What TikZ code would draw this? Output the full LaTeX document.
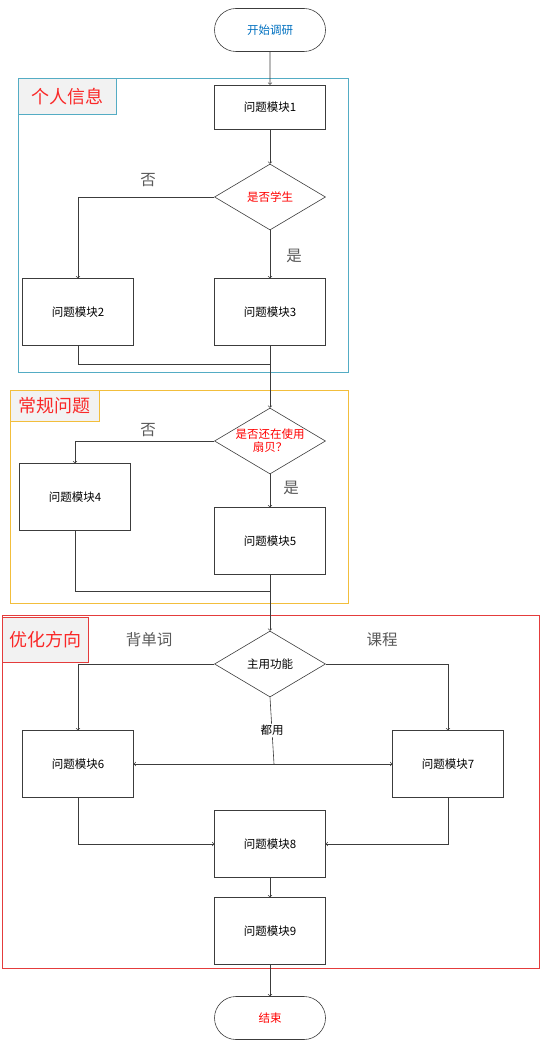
\documentclass[tikz,border=0pt]{standalone}
\usepackage{fontspec}
\setmainfont{Noto Sans CJK SC}
\usepackage{tikz}
\usetikzlibrary{positioning}
\usetikzlibrary{shapes.geometric}
\usetikzlibrary{shapes.misc}
\definecolor{frame-cyan}{RGB}{84,172,196}
\definecolor{frame-orange}{RGB}{242,190,60}
\definecolor{frame-red}{RGB}{228,60,60}
\definecolor{label-red}{RGB}{250,40,40}
\definecolor{start-blue}{RGB}{0,112,192}
\definecolor{line-gray}{RGB}{60,60,60}
\definecolor{tag-gray}{RGB}{242,242,242}

\begin{document}
\begin{tikzpicture}[%
            x=1pt,y=-1pt,
            >=to,
            every node/.style={font=\fontsize{11.5}{13}\selectfont},
            block/.style={draw=line-gray,semithick,fill=white,minimum width=111pt,inner sep=0pt},
            shortblock/.style={block,minimum height=44pt},
            tallblock/.style={block,minimum height=67pt},
            terminal/.style={draw=line-gray,semithick,rounded rectangle,minimum width=111pt,minimum height=43pt,inner sep=0pt},
            decision/.style={draw=line-gray,semithick,diamond,aspect=1.68,minimum width=111pt,minimum height=66pt,inner sep=0pt,text=red,align=center},
            branch/.style={font=\fontsize{15.5}{17}\selectfont,text=black!65},
            grouptag/.style={draw,thick,fill=tag-gray,anchor=north west,inner sep=3pt,text=label-red,font=\fontsize{18}{20}\selectfont},
            flow/.style={->,line-gray,semithick},
            plain/.style={line-gray,semithick}
          ]
            \useasboundingbox (0,0) rectangle (541,1048);

            % group frames
            \draw [frame-cyan,thick] (18,78) rectangle (348,372);
            \node [grouptag,draw=frame-cyan,minimum width=98pt,minimum height=36pt] (personal) at (18,78) {个人信息};
            \draw [frame-orange,thick] (10,390) rectangle (348,603);
            \node [grouptag,draw=frame-orange,minimum width=89pt,minimum height=31pt] (routine) at (10,390) {常规问题};
            \draw [frame-red,thick] (2,615) rectangle (539,968);
            \node [grouptag,draw=frame-red,minimum width=86pt,minimum height=45pt] (optimize) at (2,617) {优化方向};

            % nodes
            \node [terminal,text=start-blue] (start) at (270,30) {开始调研};
            \node [shortblock] (q1) at (270,107) {问题模块1};
            \node [decision] (student) at (270,197) {是否学生};
            \node [tallblock] (q2) at (78,312) {问题模块2};
            \node [tallblock] (q3) at (270,312) {问题模块3};
            \node [decision] (using) at (270,441) {是否还在使用\\扇贝？};
            \node [tallblock] (q4) at (75,497) {问题模块4};
            \node [tallblock] (q5) at (270,541) {问题模块5};
            \node [decision,text=black] (usage) at (270,664) {主用功能};
            \node [tallblock] (q6) at (78,764) {问题模块6};
            \node [tallblock] (q7) at (448,764) {问题模块7};
            \node [tallblock] (q8) at (270,844) {问题模块8};
            \node [tallblock] (q9) at (270,931) {问题模块9};
            \node [terminal,text=red] (finish) at (270,1018) {结束};

            \coordinate (joinA) at (270,364);
            \coordinate (joinB) at (270,591);
            \coordinate (split) at (274,764);

            % branch labels
            \node [branch] (noA) at (148,180) {否};
            \node [branch] (yesA) at (294,256) {是};
            \node [branch] (noB) at (148,430) {否};
            \node [branch] (yesB) at (291,488) {是};
            \node [branch] (words) at (149,640) {背单词};
            \node [branch] (course) at (382,640) {课程};

            % connectors
            \draw [flow] (start) -- (q1);
            \draw [flow] (q1) -- (student);
            \draw [flow] (student.west) -| (q2.north);
            \draw [flow] (student) -- (q3);
            \draw [plain] (q2.south) |- (joinA);
            \draw [flow] (q3) -- (using);
            \draw [flow] (using.west) -| (q4.north);
            \draw [flow] (using) -- (q5);
            \draw [plain] (q4.south) |- (joinB);
            \draw [flow] (q5) -- (usage);
            \draw [flow] (usage.west) -| (q6.north);
            \draw [flow] (usage.east) -| (q7.north);
            \draw [plain] (usage.south) -- node [pos=0.5,fill=white,inner sep=1pt,text=black] (both) {都用} (split);
            \draw [flow] (split) -- (q6.east);
            \draw [flow] (split) -- (q7.west);
            \draw [flow] (q6.south) |- (q8.west);
            \draw [flow] (q7.south) |- (q8.east);
            \draw [flow] (q8) -- (q9);
            \draw [flow] (q9) -- (finish);
          \end{tikzpicture}
\end{document}
